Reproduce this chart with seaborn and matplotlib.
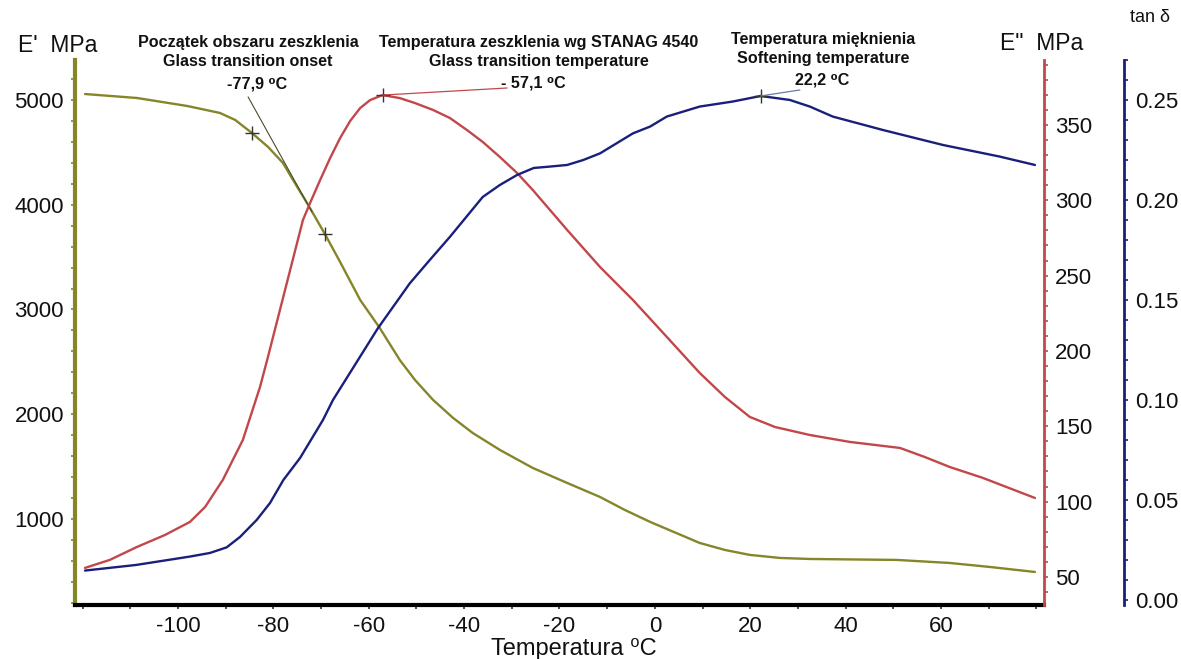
import numpy as np
import pandas as pd
import matplotlib
matplotlib.use("Agg")
import matplotlib.pyplot as plt
import seaborn as sns
from matplotlib.ticker import MultipleLocator, FormatStrFormatter

# -----------------------------
# Data
# -----------------------------

# storage modulus E' (left axis, MPa)
t_e1 = [-119.5, -108.6, -98.1, -91.2, -88.0, -84.5, -81.1, -78.0, -75.5, -72.7, -69.2,
        -66.0, -61.8, -57.7, -53.5, -50.3, -46.5, -42.3, -38.2, -32.5, -25.6, -18.4,
        -11.5, -6.3, -1.0, 9.4, 14.7, 19.9, 26.2, 32.5, 50.7, 61.8, 70.2, 79.7]
e1 = [5057, 5019, 4943, 4876, 4809, 4685, 4551, 4399, 4208, 3998, 3721,
      3453, 3091, 2824, 2518, 2327, 2136, 1964, 1821, 1659, 1487, 1344,
      1210, 1086, 972, 771, 704, 657, 628, 618, 609, 580, 542, 494]

# loss modulus E'' (right axis, MPa)
t_e2 = [-119.5, -114.3, -108.6, -102.7, -97.5, -94.3, -90.6, -86.4, -82.8, -81.3,
        -73.8, -72.3, -70.2, -68.1, -66.0, -63.9, -61.8, -59.7, -57.1, -53.5, -50.3,
        -46.5, -43.0, -39.4, -36.1, -32.5, -28.9, -25.6, -18.4, -11.5, -4.6, 2.5, 9.4,
        14.7, 19.9, 25.2, 32.5, 40.9, 51.4, 56.6, 61.8, 68.8, 79.7]
e2 = [56.0, 61.3, 69.9, 77.9, 86.5, 96.5, 114.4, 140.9, 176.1, 194.0,
      286.9, 298.2, 313.4, 328.0, 341.3, 352.6, 361.2, 366.5, 369.8, 367.8, 364.5,
      359.9, 354.6, 346.6, 338.7, 328.7, 318.1, 306.8, 280.3, 255.7, 233.8, 209.3, 185.4,
      169.4, 156.2, 149.5, 144.2, 139.6, 135.6, 129.6, 123.0, 115.7, 102.4]

# loss factor tan delta (second right axis)
t_tan = [-119.5, -108.8, -97.5, -93.3, -89.8, -87.0, -83.5, -80.7, -77.9, -74.4, -69.6,
         -67.5, -58.1, -51.4, -47.2, -43.0, -36.1, -32.5, -28.9, -25.4, -22.0, -18.4,
         -15.0, -11.5, -4.6, -1.0, 2.5, 9.4, 16.3, 22.2, 28.3, 32.5, 37.3, 47.8, 60.4,
         72.3, 79.7]
tan_d = [0.0147, 0.0175, 0.0217, 0.0235, 0.0263, 0.0315, 0.040, 0.0485, 0.060, 0.071, 0.090,
         0.100, 0.1358, 0.1583, 0.170, 0.1815, 0.2015, 0.2075, 0.2125, 0.216, 0.2167, 0.2175,
         0.220, 0.2233, 0.2333, 0.2367, 0.2417, 0.2467, 0.2492, 0.252, 0.250, 0.2467, 0.2417,
         0.235, 0.2275, 0.2217, 0.2175]

# characteristic points and leader lines
onset_t = [-84.5, -69.2]
onset_e = [4685, 3721]
onset_line_t = [-85.3, -71.9]
onset_line_e = [5029, 3931]
tg_t, tg_e2 = -57.1, 369.8
tg_line_t, tg_line_e2 = -31.0, 374.5
soft_t, soft_tan = 22.2, 0.252
soft_line_t, soft_line_tan = 30.4, 0.255

OLIVE = "#85852a"
RED = "#c2474a"
BLUE = "#1b1f7c"

# -----------------------------
# Plot
# -----------------------------
sns.set_theme(style="white")
plt.rcParams["font.family"] = ["Liberation Sans", "DejaVu Sans"]
plt.rcParams["axes.unicode_minus"] = False

fig = plt.figure(figsize=(11.81, 6.59), dpi=100)
ax = fig.add_axes([0.0635, 0.082, 0.8205, 0.827])
ax2 = ax.twinx()
ax3 = ax.twinx()

sns.lineplot(x=t_e1, y=e1, ax=ax, color=OLIVE, linewidth=1.7)
sns.lineplot(x=t_e2, y=e2, ax=ax2, color=RED, linewidth=1.7)
sns.lineplot(x=t_tan, y=tan_d, ax=ax3, color=BLUE, linewidth=1.7)

# markers + leader lines
ax.plot(onset_t, onset_e, "+", color="#333333", markersize=10, markeredgewidth=1)
ax.plot(onset_line_t, onset_line_e, color="#4a4a30", linewidth=0.8)
ax2.plot([tg_t], [tg_e2], "+", color="#333333", markersize=10, markeredgewidth=1)
ax2.plot([tg_t, tg_line_t], [tg_e2, tg_line_e2], color=RED, linewidth=0.9)
ax3.plot([soft_t], [soft_tan], "+", color="#333333", markersize=10, markeredgewidth=1)
ax3.plot([soft_t, soft_line_t], [soft_tan, soft_line_tan], color="#6b78a8", linewidth=0.9)

# limits
ax.set_xlim(-121.6, 81.6)
ax.set_ylim(179, 5382)
ax2.set_ylim(31.4, 393.1)
ax3.set_ylim(-0.0025, 0.27)

# ticks
ax.set_xticks([-100, -80, -60, -40, -20, 0, 20, 40, 60])
ax.xaxis.set_minor_locator(MultipleLocator(10))
ax.set_yticks([1000, 2000, 3000, 4000, 5000])
ax.yaxis.set_minor_locator(MultipleLocator(200))
ax2.set_yticks([50, 100, 150, 200, 250, 300, 350])
ax2.yaxis.set_minor_locator(MultipleLocator(10))
ax3.set_yticks([0.0, 0.05, 0.10, 0.15, 0.20, 0.25])
ax3.yaxis.set_minor_locator(MultipleLocator(0.01))
ax3.yaxis.set_major_formatter(FormatStrFormatter("%.2f"))

for a in (ax, ax2, ax3):
    a.grid(False)
    a.set_xlabel("")
    a.set_ylabel("")
    a.spines["top"].set_visible(False)

ax.spines["right"].set_visible(False)
ax.spines["left"].set_color(OLIVE)
ax.spines["left"].set_linewidth(3)
ax.spines["bottom"].set_color("black")
ax.spines["bottom"].set_linewidth(3)

for s in ("left", "bottom"):
    ax2.spines[s].set_visible(False)
    ax3.spines[s].set_visible(False)
ax2.spines["right"].set_color(RED)
ax2.spines["right"].set_linewidth(2)
ax3.spines["right"].set_position(("axes", 1.0826))
ax3.spines["right"].set_color(BLUE)
ax3.spines["right"].set_linewidth(2)

ax.tick_params(axis="x", which="both", bottom=True, direction="out", length=3, width=1.2,
               color="#333333", labelsize=16, pad=5, labelcolor="#111111")
ax.tick_params(axis="y", which="both", left=True, direction="out", length=3, width=1.2,
               color=OLIVE, labelsize=16, pad=5, labelcolor="#111111")
ax2.tick_params(axis="y", which="both", right=True, direction="out", length=3, width=1.2,
                color=RED, labelsize=16, pad=5, labelcolor="#111111")
ax3.tick_params(axis="y", which="both", right=True, direction="out", length=3, width=1.2,
                color=BLUE, labelsize=16, pad=5, labelcolor="#111111")

# axis titles
W, H = 1181, 659
fig.text(18 / W, 1 - 45 / H, "E'  MPa", fontsize=16.5, va="center", ha="left", color="#111111")
fig.text(1000 / W, 1 - 44 / H, 'E"  MPa', fontsize=16.5, va="center", ha="left", color="#111111")
fig.text(1130 / W, 1 - 18 / H, "tan δ", fontsize=13, va="center", ha="left", color="#111111")
fig.text(657 / W, 1 - 649 / H, "Temperatura ⁰C", fontsize=17, va="center", ha="right",
         color="#111111")

# annotations
ann = dict(fontsize=11.6, fontweight="bold", ha="center", va="center", color="#111111",
           linespacing=1.3)
fig.text(248 / W, 1 - 52 / H, "Początek obszaru zeszklenia\nGlass transition onset", **ann)
fig.text(257 / W, 1 - 84 / H, "-77,9 ⁰C", **ann)
fig.text(539 / W, 1 - 52 / H, "Temperatura zeszklenia wg STANAG 4540\nGlass transition temperature", **ann)
fig.text(533 / W, 1 - 83 / H, "- 57,1 ⁰C", **ann)
fig.text(823 / W, 1 - 49 / H, "Temperatura mięknienia\nSoftening temperature", **ann)
fig.text(822 / W, 1 - 80 / H, "22,2 ⁰C", **ann)

fig.savefig("out.png", dpi=100)
